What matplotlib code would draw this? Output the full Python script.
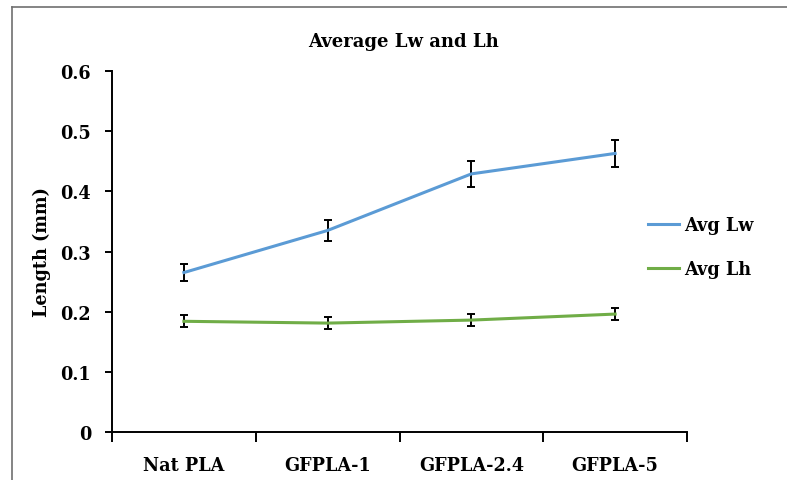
import matplotlib.pyplot as plt
from matplotlib.lines import Line2D

# data
categories = ["Nat PLA", "GFPLA-1", "GFPLA-2.4", "GFPLA-5"]
avg_lw = [0.265, 0.335, 0.429, 0.463]
avg_lw_err = [0.014, 0.017, 0.021, 0.023]
avg_lh = [0.184, 0.181, 0.186, 0.196]
avg_lh_err = [0.010, 0.010, 0.010, 0.010]
y_ticks = [0, 0.1, 0.2, 0.3, 0.4, 0.5, 0.6]

plt.rcParams['font.family'] = ['DejaVu Serif']
plt.rcParams['font.weight'] = 'bold'
fs = 12.7  # label font size

W, H = 787, 481
fig = plt.figure(figsize=(W / 100, H / 100), dpi=100)
ax = fig.add_axes([112 / W, 1 - 433 / H, (687 - 112) / W, (433 - 72) / H])

x = list(range(len(categories)))
ax.errorbar(x, avg_lw, yerr=avg_lw_err, color="#5B9BD5", lw=2.2, ecolor="black",
            elinewidth=1.4, capsize=3, capthick=1.4, label="Avg Lw")
ax.errorbar(x, avg_lh, yerr=avg_lh_err, color="#70AD47", lw=2.2, ecolor="black",
            elinewidth=1.4, capsize=3, capthick=1.4, label="Avg Lh")

ax.set_xlim(-0.5, len(categories) - 0.5)
ax.set_ylim(0, 0.6)
ax.set_yticks(y_ticks)
ax.set_yticklabels([("%g" % v) for v in y_ticks], fontsize=fs, fontweight="bold")

# tick marks between categories, labels at the centres
ax.set_xticks([i - 0.5 for i in range(len(categories) + 1)])
ax.set_xticklabels([])
ax.set_xticks(x, minor=True)
ax.set_xticklabels(categories, minor=True, fontsize=fs, fontweight="bold")
ax.tick_params(axis="x", which="major", length=7, width=1.4, direction="out")
ax.tick_params(axis="x", which="minor", length=0, pad=17)
ax.tick_params(axis="y", length=5, width=1.4, direction="out", pad=10)

for s in ["top", "right"]:
    ax.spines[s].set_visible(False)
for s in ["left", "bottom"]:
    ax.spines[s].set_linewidth(1.4)

ax.set_ylabel("Length (mm)", fontsize=fs, fontweight="bold", labelpad=7)
fig.text(403 / W, 1 - 42 / H, "Average Lw and Lh", ha="center", va="center",
         fontsize=13, fontweight="bold")

handles = [Line2D([0], [0], color="#5B9BD5", lw=2.2),
           Line2D([0], [0], color="#70AD47", lw=2.2)]
fig.legend(handles, ["Avg Lw", "Avg Lh"], loc="center left",
           bbox_to_anchor=(639 / W, 1 - 248 / H), frameon=False, borderpad=0,
           handlelength=1.75, handletextpad=0.3, labelspacing=1.5,
           prop={"size": fs, "weight": "bold"})

# grey frame around the chart area
fig.add_artist(Line2D([12 / W, 12 / W], [0, 1 - 7.5 / H], color="#6f6f6f", lw=1.2))
fig.add_artist(Line2D([12 / W, 1], [1 - 7.5 / H, 1 - 7.5 / H], color="#6f6f6f", lw=1.2))

fig.savefig("out.png", dpi=100)
